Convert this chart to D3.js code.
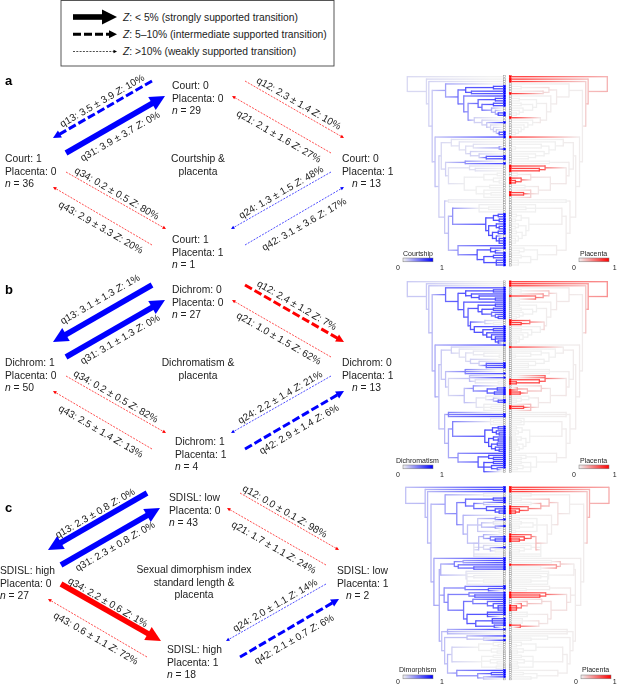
<!DOCTYPE html>
<html><head><meta charset="utf-8">
<script src="https://cdn.jsdelivr.net/npm/d3@7/dist/d3.min.js"></script>
<style>html,body{margin:0;padding:0;background:#fff}svg{display:block;filter:blur(.35px)}text{font-family:"Liberation Sans",Arial,sans-serif;fill:#222}</style>
</head><body><svg id="c" width="617" height="685"></svg>
<script>
// ---------- data ----------
const qIds  = ["q13","q31","q12","q21","q34","q43","q24","q42"];
const qHues = ["b","b","r","r","r","r","b","b"];
const meanA = [3.5,3.9,2.3,2.1,0.2,2.9,1.3,3.1];
const sdA   = [3.9,3.7,1.4,1.6,0.5,3.3,1.5,3.6];
const zA    = [10,0,10,27,80,20,48,17];
const tierA = [2,1,3,3,3,3,3,3];
const meanB = [3.1,3.1,2.4,1.0,0.2,2.5,2.2,2.9];
const sdB   = [1.3,1.3,1.2,1.5,0.5,1.4,1.4,1.4];
const zB    = [1,0,7,62,82,13,21,6];
const tierB = [1,1,2,3,3,3,3,2];
const meanC = [2.3,2.3,0.0,1.7,2.2,0.6,2.0,2.1];
const sdC   = [0.8,0.8,0.1,1.1,0.6,1.1,1.1,0.7];
const zC    = [0,0,98,24,1,72,14,6];
const tierC = [1,1,3,3,1,3,3,2];
// nodes: top, left, right, bottom
const statesA = [["Court: 0","Placenta: 0",29],["Court: 1","Placenta: 0",36],["Court: 0","Placenta: 1",13],["Court: 1","Placenta: 1",1]];
const statesB = [["Dichrom: 0","Placenta: 0",27],["Dichrom: 1","Placenta: 0",50],["Dichrom: 0","Placenta: 1",13],["Dichrom: 1","Placenta: 1",4]];
const statesC = [["SDISL: low","Placenta: 0",43],["SDISL: high","Placenta: 0",27],["SDISL: low","Placenta: 1",2],["SDISL: high","Placenta: 1",18]];
const titleA = ["Courtship &","placenta"];
const titleB = ["Dichromatism &","placenta"];
const titleC = ["Sexual dimorphism index","standard length &","placenta"];
const legendTexts = [" < 5% (strongly supported transition)"," 5–10% (intermediate supported transition)"," >10% (weakly supported transition)"];

// Trees: [depth, left state, right state, ...children]; tip letters: w none, b left, r right, x both
const treeA =
[1,.15,.35,"r",[.80,.15,.3,"r",[.775,.18,.2,"r",[.74,.25,.02,
  [.60,.5,.02,"w",[.47,.8,.04,
    [.39,.95,.1,[.10,1,0,"bb"],[.33,.9,.15,"bx"]],
    [.41,.7,.02,"b",[.365,.6,.02,
      [.26,.85,0,[.08,1,0,"bb"],[.22,.8,0,[.10,1,0,"bb"],[.12,.45,0,"w",[.08,.4,0,"w",[.05,1,0,"bb"]]]]],
      [.30,.2,.04,"r",[.22,.2,0,"w",[.17,.25,0,"b",[.13,.15,0,"w",[.10,.2,0,"w",[.07,.25,0,"w",[.04,.95,0,"bb"]]]]]]]]]]],
  [.71,.3,.02,"x",[.67,.2,.02,
    [.645,.15,.02,
      [.54,.1,.02,"w",[.457,.1,0,"w",[.39,.12,0,
        [.31,.1,0,"w",[.04,.5,0,"wb"]],
        [.34,.2,0,"w",[.25,.2,0,"w",[.175,.9,0,"bb"]]]]]],
      [.60,.2,.03,[.395,.6,0,"wb"],[.57,.1,.05,
        [.35,.1,.8,"r",[.29,.1,.95,"rr"]],
        [.405,.02,.05,
          [.2,0,.1,[.06,0,0,"ww"],[.1,0,.8,"r",[.04,0,1,"rr"]]],
          [.28,0,.05,[.14,0,0,"ww"],[.2,0,.2,"w",[.125,0,.95,"rr"],"w"]]]]]],
    [.61,.25,.02,[.57,.05,0,"ww"],[.57,.35,.02,
      [.526,.6,.02,
        [.25,.02,0,"w",[.15,0,0,"ww"],"w"],
        [.18,1,0,
          [.1,1,0,[.05,1,0,"bb"],[.04,1,0,"bb"]],
          [.15,1,0,[.07,1,0,"b",[.04,1,0,"bb"]],[.11,1,0,[.05,1,0,"bb"],[.07,1,0,"w",[.04,1,0,"bbb"]]]]]],
      [.47,.6,.02,"b",[.27,.95,0,[.13,1,0,"b",[.08,1,0,"wb"]],[.2,1,0,[.1,1,0,"bb"],[.07,1,0,"bbb"]]]]]]]]]]]];

const treeB =
[1,.25,.55,"r",[.80,.25,.5,"r",[.775,.3,.25,"r",[.74,.35,.02,
  [.60,.85,.05,"b",[.47,.95,.05,
    [.39,1,.25,[.10,1,0,"bb"],[.33,1,.5,"b",[.25,1,.7,"x",[.08,1,0,"bb"]]]],
    [.41,.9,.02,"b",[.365,.9,.02,
      [.26,1,0,[.08,1,0,"bb"],[.22,1,0,[.10,1,0,"bb"],[.12,.8,0,"b",[.08,.8,0,"b",[.05,1,0,"bb"]]]]],
      [.34,.95,.15,[.19,.2,.7,"r",[.10,0,1,"rr"]],
        [.3,1,0,"b",[.21,1,0,[.1,1,0,"bb"],[.17,1,0,"b",[.12,1,0,"b",[.08,1,0,"bb",[.05,1,0,"bw"]]]]]]]]]]],
  [.71,.45,.03,"b",[.67,.3,.03,
    [.645,.25,.03,
      [.54,.2,.03,"r",[.457,.1,0,"w",[.39,.12,0,
        [.31,.05,0,"w",[.2,.03,0,"w",[.04,0,0,"ww"]]],
        [.34,.2,0,"w",[.25,.2,0,"w",[.175,.9,0,"bbb"]]]]]],
      [.60,.3,.03,[.395,.7,0,"wwb"],[.57,.15,.06,
        [.35,.3,.8,"wb",[.29,.1,.95,"r",[.05,0,1,"rr"]]],
        [.405,.3,.04,
          [.31,.6,.2,"w",[.165,.9,.3,[.06,1,.5,"bx"],[.09,1,1,"xx"]]],
          [.28,.1,.05,[.18,.05,0,"w",[.1,.3,0,"w",[.05,.9,0,"bb"]]],[.2,.02,.3,"w",[.125,0,.95,"rr"],"w"]]]]]],
    [.61,.35,.02,[.57,.7,.02,"w","bb"],[.57,.45,.02,
      [.526,.7,.02,
        [.13,.02,0,"w",[.1,0,0,"ww"],"w"],
        [.19,1,0,
          [.11,1,0,[.05,1,0,"bb"],[.07,1,0,"b",[.04,1,0,"bb"]]],
          [.15,1,0,[.1,1,0,"b",[.05,1,0,"bb"]],[.12,1,0,[.06,1,0,"bb"],[.08,1,0,"b",[.04,1,0,"bb"]]]]]],
      [.47,.6,.02,"b",[.26,.95,0,[.15,1,0,"b",[.1,1,0,"bb"]],[.2,1,0,[.1,1,0,"bb"],[.12,1,0,"b",[.06,.8,0,"bw"]],"w"]]]]]]]]]]];

const treeC =
[1,.3,.4,"x",[.80,.35,.35,"x",[.775,.35,.25,"x",[.74,.35,.02,
  [.595,.5,.02,[.2,.05,.02,"ww"],[.475,.65,.1,
    [.385,.85,.3,[.1,1,0,"bb"],[.3,.8,.4,[.2,.3,0,"bw"],[.17,.9,.7,"x",[.08,1,1,"x",[.04,1,1,"xx"]]]]],
    [.41,.4,.02,"w",[.365,.3,.02,
      [.26,.25,0,[.08,.5,0,"wb"],[.22,.3,0,[.1,.1,0,"ww"],[.08,.5,0,"bw"]],[.04,0,0,"ww"]],
      [.25,.3,.3,[.2,.4,.7,"r",[.13,.7,1,"x",[.08,1,1,"xx"]]],
        [.3,.1,0,"w",[.2,.15,0,"w",[.13,.3,0,"b",[.08,0,0,"ww"]]],"w","w"]]]]]],
  [.71,.45,.03,"b",[.655,.4,.03,
    [.64,.4,.03,
      [.5,.7,.25,[.41,.5,0,"bb"],[.46,.8,.5,"x",[.3,.9,0,"bb"]]],
      [.38,.1,0,"w",[.37,.05,0,"w",[.3,.03,0,"ww"],[.2,0,0,"ww"],"w"]]],
    [.605,.6,.05,
      [.39,.7,.02,"b",[.15,.9,0,"bw"]],
      [.565,.7,.1,
        [.35,.7,.8,"x",[.29,.9,.95,"xx"]],
        [.405,.8,.1,
          [.31,.7,.15,"b",[.16,.8,.3,"b",[.1,.9,.7,"b",[.05,1,1,"xxx"]]]],
          [.37,.95,.05,[.16,1,0,"bbw"],[.28,.95,.1,[.11,1,0,"b","bb"],[.09,.9,.8,"x","w"]]]]]],
    [.63,.3,.02,
      [.57,.4,.02,"bww"],
      [.6,.3,.02,
        [.37,.3,0,"b",[.2,.2,0,"wb"]],
        [.57,.35,.02,
          [.525,.2,.02,
            [.25,0,0,[.1,0,0,"w",[.05,0,0,"ww"]],[.12,0,0,"w",[.06,0,0,"ww"]]],
            [.22,0,0,[.1,0,0,"ww"],[.13,0,0,"w",[.06,0,0,"ww"]],[.07,0,0,"ww"]]],
          [.475,.6,.02,"b",[.26,.6,0,[.12,.95,0,"bb"],[.2,.3,0,"bw"]]]]]]]]]]]];

const legendNames = ["Courtship","Dichromatism","Dimorphism"];

// ---------- layout ----------
const routeStart = [[152,81],[66,153],[245,81],[331,153],[66,172],[152,245],[331,172],[245,245]];
const routeEnd   = [[53,138],[165,96],[344,138],[232,96],[166,229],[53,187],[231,229],[344,187]];
const labelAtA = [[102,100.5],[120,136],[299,103],[279,136],[117,193],[101,227],[281,192],[304,224]];
const labelAtB = [[100,299],[120,339],[297,305],[279,338],[116,396],[101,431],[280,397],[299,429]];
const labelAtC = [[95,513],[115,546],[285,511],[274,547],[108,602],[96,638],[275,605],[294,639]];
const labelAngle = [-30,-30,30,30,30,30,-30,-30];
const panels = [
 {key:"a",mean:meanA,sd:sdA,z:zA,tier:tierA,states:statesA,title:titleA,tree:treeA,labelAt:labelAtA,legend:legendNames[0],
  dx:0,dy:0,letterY:85,titleX:198,titleY:162,
  nodeAt:[[172,89],[5,162],[342,162],[172,243]],nAt:[172,5,352,172],
  top:76.7,bot:265,lOut:407.3,rOut:607.3,barY:258,nameY:255.5,numY:270,lName:403,rBar:579,lBar:403},
 {key:"b",mean:meanB,sd:sdB,z:zB,tier:tierB,states:statesB,title:titleB,tree:treeB,labelAt:labelAtB,legend:legendNames[1],
  dx:0,dy:204,letterY:294,titleX:198,titleY:366,
  nodeAt:[[172,293],[5,366],[342,366],[175,445]],nAt:[172,5,352,175],
  top:281.7,bot:471.7,lOut:407.3,rOut:607.3,barY:465,nameY:462.5,numY:477,lName:396,rBar:579,lBar:403},
 {key:"c",mean:meanC,sd:sdC,z:zC,tier:tierC,states:statesC,title:titleC,tree:treeC,labelAt:labelAtC,legend:legendNames[2],
  dx:-5,dy:412,letterY:512,titleX:194,titleY:573,
  nodeAt:[[169,501],[0,574],[337,574],[167,653]],nAt:[169,0,346,167],
  top:487.3,bot:679,lOut:405.7,rOut:609,barY:675,nameY:671.5,numY:684,lName:399,rBar:581,lBar:403}
];
const tierStyle = {1:{w:5.6,dash:null,hl:15,hw:15},2:{w:3,dash:"8,3",hl:8,hw:8},3:{w:.7,dash:"2,1.3",hl:3.5,hw:3.5}};
const BLUE="#0000ff",RED="#ff0000",LOW="#f0f0f0";
const TBLUE="#5050ff",TRED="#ff4040",LW=1.3;
const FS=10.3,FSQ=10;

const svg=d3.select("#c");
const defs=svg.append("defs");
let gid=0;

function arrow(g,x0,y0,x1,y1,color,tier){
  const s=tierStyle[tier],a=Math.atan2(y1-y0,x1-x0),ux=Math.cos(a),uy=Math.sin(a);
  const bx=x1-ux*s.hl,by=y1-uy*s.hl;
  g.append("line").attr("x1",x0).attr("y1",y0).attr("x2",bx+ux).attr("y2",by+uy)
    .attr("stroke",color).attr("stroke-width",s.w).attr("stroke-dasharray",s.dash);
  g.append("path").attr("d",d3.line()([[x1,y1],[bx-uy*s.hw/2,by+ux*s.hw/2],[bx+uy*s.hw/2,by-ux*s.hw/2]])+"Z").attr("fill",color);
}

// key box
const key=svg.append("g");
key.append("rect").attr("x",61).attr("y",0.5).attr("width",273).attr("height",65.5).attr("fill","#fff").attr("stroke","#444").attr("stroke-width",.9);
const keyY=d3.scalePoint().domain([0,1,2]).range([17,51.5]);
legendTexts.forEach((t,i)=>{
  arrow(key,73,keyY(i),117,keyY(i),"#000",i+1);
  const tx=key.append("text").attr("x",123).attr("y",keyY(i)+3.5).attr("font-size",FS);
  tx.append("tspan").attr("font-style","italic").text("Z");
  tx.append("tspan").text(":"+t);
});

function parse(s){
  if(typeof s==="string") return {tip:s,l:+(s==="b"||s==="x"),r:+(s==="r"||s==="x"),h:0};
  const kids=[];
  s.slice(3).forEach(k=>{ if(typeof k==="string") for(const ch of k) kids.push(parse(ch)); else kids.push(parse(k)); });
  return {h:s[0],l:s[1],r:s[2],children:kids};
}

function drawTree(p){
  const root=d3.hierarchy(parse(p.tree));
  const leaves=root.leaves();
  const y=d3.scalePoint().domain(d3.range(leaves.length)).range([p.top,p.bot]);
  leaves.forEach((n,i)=>n.y0=y(i));
  root.eachAfter(n=>{ if(n.children) n.y0=(n.children[0].y0+n.children[n.children.length-1].y0)/2; });
  const step=y.step();
  [{side:"l",hi:TBLUE,cell:BLUE,range:[503,p.lOut],strip:503.3},{side:"r",hi:TRED,cell:RED,range:[511.6,p.rOut],strip:509}].forEach(c=>{
    const x=d3.scaleLinear().domain([0,1]).range(c.range);
    const col=d3.scaleLinear().domain([0,1]).range([LOW,c.hi]).interpolate(d3.interpolateRgb);
    const g=svg.append("g").attr("fill","none").attr("stroke-width",LW);
    const order=root.descendants().slice().sort((a,b)=>(a.data[c.side]||0)-(b.data[c.side]||0));
    order.forEach(n=>{
      if(n.children){
        g.append("line").attr("x1",x(n.data.h)).attr("x2",x(n.data.h))
         .attr("y1",n.children[0].y0).attr("y2",n.children[n.children.length-1].y0)
         .attr("stroke",col(n.data[c.side])).attr("stroke-linecap","square");
      }
      if(n.parent){
        const id="g"+(gid++);
        const gr=defs.append("linearGradient").attr("id",id).attr("gradientUnits","userSpaceOnUse")
          .attr("x1",x(n.parent.data.h)).attr("x2",x(n.data.h)).attr("y1",0).attr("y2",0);
        gr.append("stop").attr("offset",0).attr("stop-color",col(n.parent.data[c.side]));
        gr.append("stop").attr("offset",n.children?1:.85).attr("stop-color",col(n.data[c.side]));
        g.append("rect").attr("x",Math.min(x(n.parent.data.h),x(n.data.h))).attr("y",n.y0-LW/2)
         .attr("width",Math.abs(x(n.parent.data.h)-x(n.data.h))).attr("height",LW)
         .attr("fill","url(#"+id+")").attr("stroke","none");
      }
    });
    const cell=svg.append("g");
    leaves.forEach(n=>{
      const on=n.data[c.side]===1;
      cell.append("rect").attr("x",c.strip+.2).attr("y",n.y0-step/2+.2).attr("width",2.1).attr("height",Math.max(step-.4,.5))
        .attr("fill",on?c.cell:"#fff").attr("stroke",on?c.cell:"#888").attr("stroke-width",.45);
    });
  });
}

function legendBar(p,x0,hi,name,nameX,zeroX,oneX){
  const id="lg"+(gid++);
  const gr=defs.append("linearGradient").attr("id",id);
  gr.append("stop").attr("offset",0).attr("stop-color",LOW);
  gr.append("stop").attr("offset",1).attr("stop-color",hi);
  svg.append("rect").attr("x",x0).attr("y",p.barY).attr("width",30).attr("height",3.8).attr("fill","url(#"+id+")").attr("stroke","#777").attr("stroke-width",.5);
  svg.append("text").attr("x",nameX).attr("y",p.nameY).attr("font-size",7).text(name);
  svg.append("text").attr("x",zeroX).attr("y",p.numY).attr("font-size",7).text("0");
  svg.append("text").attr("x",oneX).attr("y",p.numY).attr("font-size",7).text("1");
}

panels.forEach(p=>{
  const xs=d3.scaleLinear().domain([0,617]).range([p.dx,617+p.dx]);
  const ys=d3.scaleLinear().domain([0,685]).range([p.dy,685+p.dy]);
  const g=svg.append("g");
  qIds.forEach((q,i)=>{
    arrow(g,xs(routeStart[i][0]),ys(routeStart[i][1]),xs(routeEnd[i][0]),ys(routeEnd[i][1]),qHues[i]==="b"?BLUE:RED,p.tier[i]);
    const [lx,ly]=p.labelAt[i];
    const t=g.append("text").attr("transform",`translate(${lx},${ly}) rotate(${labelAngle[i]})`)
      .attr("text-anchor","middle").attr("dy","0.35em").attr("font-size",FSQ);
    t.append("tspan").text(`${q}: ${p.mean[i].toFixed(1)} ± ${p.sd[i].toFixed(1)} `);
    t.append("tspan").attr("font-style","italic").text("Z");
    t.append("tspan").text(`: ${p.z[i]}%`);
  });
  p.states.forEach((s,i)=>{
    const [x,y]=p.nodeAt[i];
    g.append("text").attr("x",x).attr("y",y).attr("font-size",FS).text(s[0]);
    g.append("text").attr("x",x).attr("y",y+12.7).attr("font-size",FS).text(s[1]);
    const n=g.append("text").attr("x",p.nAt[i]).attr("y",y+25.4).attr("font-size",FS);
    n.append("tspan").attr("font-style","italic").text("n");
    n.append("tspan").text(" = "+s[2]);
  });
  p.title.forEach((t,i)=>g.append("text").attr("x",p.titleX).attr("y",p.titleY+i*12.6).attr("text-anchor","middle").attr("font-size",FS).text(t));
  g.append("text").attr("x",5).attr("y",p.letterY).attr("font-size",13).attr("font-weight","bold").style("fill","#000").text(p.key);
  drawTree(p);
  legendBar(p,p.lBar,BLUE,p.legend,p.lName,396,440);
  legendBar(p,p.rBar,RED,"Placenta",p.rBar+1,p.rBar-7,612.8);
});
</script></body></html>
